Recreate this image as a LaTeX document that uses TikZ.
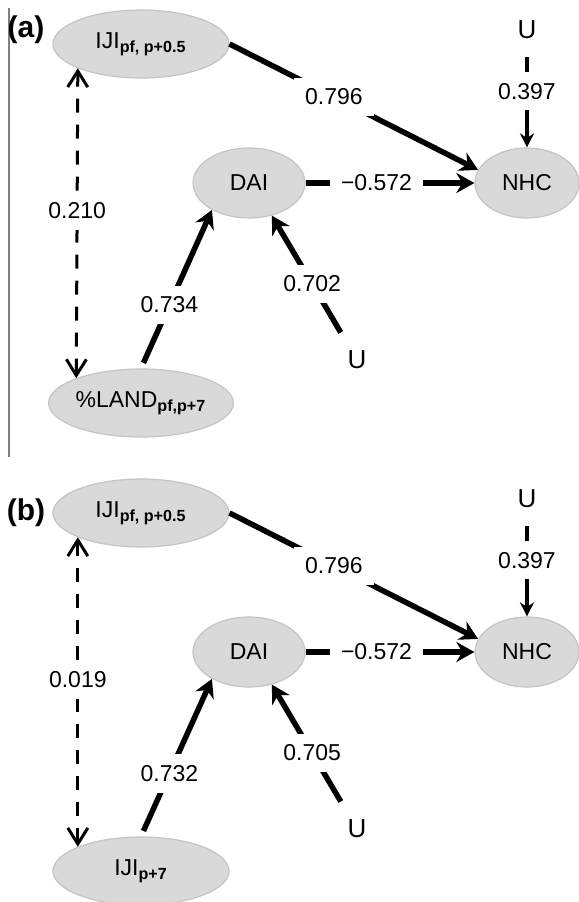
\documentclass[tikz,border=0pt]{standalone}
\usepackage{fontspec}
\setmainfont{Liberation Sans}
\usepackage{xcolor}
\usetikzlibrary{shapes.geometric,arrows.meta}
\definecolor{ellgray}{RGB}{217,217,217}
\definecolor{rimgray}{RGB}{196,196,196}
\tikzset{
  var/.style={ellipse,fill=ellgray,draw=rimgray,line width=0.6pt,inner sep=0pt,font=\fontsize{11.5}{13}\selectfont},
  widevar/.style={var,minimum width=88pt,minimum height=34pt},
  effect/.style={line width=2.75pt,-{Stealth[length=9pt,width=10pt]}},
  corr/.style={line width=1.5pt,dash pattern=on 7pt off 6pt,{Straight Barb[length=8pt,width=10pt]}-{Straight Barb[length=8pt,width=10pt]}},
  coef/.style={fill=white,inner sep=5.5pt,font=\fontsize{11.5}{13}\selectfont},
  err/.style={inner sep=3pt,font=\fontsize{13}{15}\selectfont},
  panel/.style={inner sep=0pt,font=\bfseries\fontsize{15}{17}\selectfont}
}

\begin{document}
\begin{tikzpicture}[x=0.5pt,y=-0.5pt]
        \useasboundingbox (0,0) rectangle (579,902);
        \draw[line width=1pt,gray] (9,8) -- (9,457);
        % panel (a)
        \node[panel] (tagA) at (26,30) {(a)};
        \node[widevar] (ijiA) at (141,44) {IJI\textsubscript{\textbf{pf, p+0.5}}};
        \node[var,minimum width=56pt,minimum height=35pt] (daiA) at (249,183) {DAI};
        \node[var,minimum width=52pt,minimum height=35pt] (nhcA) at (527,183) {NHC};
        \node[widevar] (landA) at (141,403) {\%LAND\textsubscript{\textbf{pf,p+7}}};
        \node[err] (uNhcA) at (527,30) {U};
        \node[err] (uDaiA) at (357,360) {U};
        \draw[effect] (ijiA.east) -- node[coef,pos=0.42] {0.796} (nhcA.165);
        \draw[effect] (daiA) -- node[coef,pos=0.42] {−0.572} (nhcA);
        \draw[effect,line width=1.6pt,-{Stealth[length=7pt,width=7pt]},shorten <=6pt] (uNhcA) -- node[coef,pos=0.45] {0.397} (nhcA);
        \draw[effect,shorten <=3pt] (landA.north) -- node[coef,pos=0.40] {0.734} (daiA.216);
        \draw[effect,shorten <=7pt] (uDaiA) -- node[coef,pos=0.47] {0.702} (daiA.305);
        \draw[corr] (ijiA.201) -- node[coef,pos=0.46] {0.210} (landA.159);
        % panel (b)
        \node[panel] (tagB) at (26,513) {(b)};
        \node[widevar] (ijiB) at (141,513) {IJI\textsubscript{\textbf{pf, p+0.5}}};
        \node[var,minimum width=56pt,minimum height=35pt] (daiB) at (249,652) {DAI};
        \node[var,minimum width=52pt,minimum height=35pt] (nhcB) at (527,652) {NHC};
        \node[widevar] (ijiLateB) at (141,871) {IJI\textsubscript{\textbf{p+7}}};
        \node[err] (uNhcB) at (527,499) {U};
        \node[err] (uDaiB) at (357,829) {U};
        \draw[effect] (ijiB.east) -- node[coef,pos=0.42] {0.796} (nhcB.165);
        \draw[effect] (daiB) -- node[coef,pos=0.42] {−0.572} (nhcB);
        \draw[effect,line width=1.6pt,-{Stealth[length=7pt,width=7pt]},shorten <=6pt] (uNhcB) -- node[coef,pos=0.45] {0.397} (nhcB);
        \draw[effect,shorten <=3pt] (ijiLateB.north) -- node[coef,pos=0.40] {0.732} (daiB.216);
        \draw[effect,shorten <=7pt] (uDaiB) -- node[coef,pos=0.47] {0.705} (daiB.305);
        \draw[corr] (ijiB.201) -- node[coef,pos=0.46] {0.019} (ijiLateB.159);
      \end{tikzpicture}
\end{document}
